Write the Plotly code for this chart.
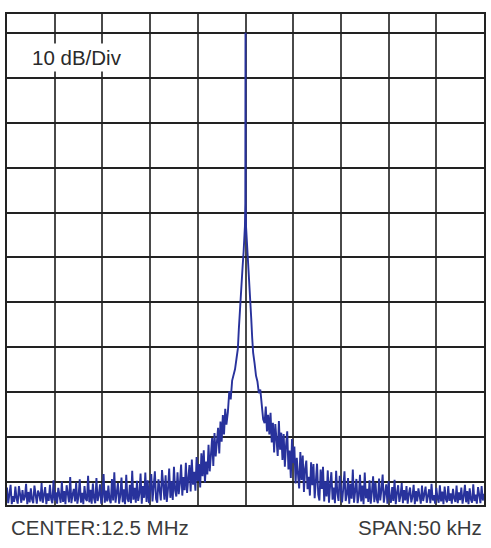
import numpy as np
import plotly.graph_objects as go

# ---- data (dB relative, frequency offset in kHz from 12.5 MHz centre) ----
left_floor_db = [
    -101.2, -104.7, -102.8, -100.6, -104.9, -103.1, -104.4, -101.0, -103.6, -104.8, -100.9, -102.7,
    -104.6, -101.8, -104.1, -103.3, -100.4, -104.9, -102.2, -104.5, -101.4, -103.9, -104.7, -100.8,
    -103.5, -104.8, -101.9, -102.6, -104.3, -100.2, -104.6, -103.0, -101.1, -104.9, -102.5, -104.2,
    -100.6, -103.8, -104.7, -99.6, -104.1, -102.3, -104.8, -101.3, -103.4, -104.6, -99.9, -104.4,
    -102.0, -104.9, -100.7, -103.2, -104.5, -98.9, -104.7, -102.8, -101.5, -104.3, -100.1, -104.8,
    -103.1, -99.4, -104.6, -102.4, -104.9, -100.9, -103.7, -104.2, -98.6, -104.5, -101.7, -104.8,
    -100.3, -103.6, -104.7, -99.1, -104.2, -102.9, -100.5, -104.8, -103.3, -98.2, -104.6, -101.9,
    -104.3, -100.8, -103.9, -104.7, -99.3, -104.1, -97.8, -104.6, -102.1, -100.2, -104.8, -103.0,
    -99.0, -104.5, -101.6, -104.9, -98.4, -103.7, -104.4, -100.6, -104.7, -97.5, -103.9, -101.3,
    -104.6, -99.7, -104.2, -102.6, -98.1, -104.8, -100.9, -103.5, -97.9, -104.4, -99.6, -104.7,
]
left_skirt_db = [
    -98.2, -104.3, -101.0, -97.6, -103.8, -104.6, -99.4, -102.1,
    -104.1, -97.3, -100.8, -103.9, -98.5, -104.4, -101.6, -97.0,
    -103.5, -99.8, -104.0, -96.6, -101.9, -103.2, -97.8, -102.7,
    -100.3, -96.1, -103.0, -98.9, -101.8, -95.7, -102.4, -99.2,
    -96.2, -102.1, -95.0, -100.6, -97.7, -101.9, -94.4, -99.8,
    -96.0, -101.2, -93.6, -98.7, -92.9, -100.1, -95.4, -98.3,
    -91.7, -97.6, -93.8, -90.2, -96.4, -89.1, -94.3, -91.5,
    -87.9, -93.6, -86.5, -91.0, -85.1, -89.4, -83.7, -87.2,
]
core_khz = [
    -1.85, -1.7, -1.55, -1.4, -1.25, -1.1, -0.95, -0.8, -0.7, -0.6, -0.5, -0.4,
    -0.3, -0.2, -0.12, -0.06, -0.02, 0.0, 0.02, 0.06, 0.12, 0.2, 0.3, 0.4, 0.5,
    0.6, 0.7, 0.8, 0.95, 1.1, 1.25, 1.4, 1.55, 1.7, 1.85,
]
core_db = [
    -84.5, -79.8, -81.6, -77.4, -76.2, -74.9, -72.6, -70.3, -66.0, -61.8, -58.2,
    -55.6, -51.9, -48.8, -45.5, -43.0, -38.0, 0.0, -38.5, -43.2, -45.8, -49.5,
    -52.6, -56.4, -59.5, -63.5, -67.8, -71.2, -73.5, -76.3, -77.6, -80.2, -79.4,
    -83.1, -86.0,
]
right_skirt_db = [
    -86.9, -83.2, -88.7, -85.0, -89.4, -84.6, -91.2, -86.8,
    -93.4, -87.1, -90.6, -94.2, -86.4, -92.8, -89.0, -95.1,
    -89.3, -96.6, -91.8, -88.7, -97.2, -93.0, -99.1, -90.4,
    -95.8, -92.1, -100.3, -94.6, -98.2, -101.4, -93.3, -99.5,
    -94.1, -102.2, -97.0, -95.2, -101.6, -98.8, -103.0, -95.6,
    -100.7, -96.0, -103.6, -99.1, -95.9, -102.8, -104.1, -97.2,
    -101.5, -96.6, -104.3, -99.8, -103.2, -97.4, -104.6, -100.6,
    -97.8, -103.9, -101.2, -104.7, -97.5, -102.4, -104.2, -98.6,
]
right_floor_db = [
    -104.5, -101.3, -97.6, -104.2, -102.8, -99.1, -104.8, -100.4, -103.7, -97.2, -104.6, -101.9,
    -99.3, -104.7, -103.1, -98.4, -104.3, -100.8, -104.9, -97.9, -103.6, -101.5, -104.4, -99.6,
    -104.8, -102.2, -98.7, -104.5, -100.1, -103.8, -104.7, -99.2, -104.1, -101.7, -98.3, -104.6,
    -102.9, -100.5, -104.8, -99.8, -103.4, -104.6, -101.1, -104.2, -99.5, -104.9, -102.4, -100.7,
    -104.4, -103.0, -100.2, -104.7, -101.8, -104.1, -100.9, -104.8, -102.6, -101.2, -104.5, -103.3,
    -100.6, -104.9, -102.0, -104.3, -101.4, -103.7, -104.8, -100.8, -104.2, -102.7, -101.0, -104.6,
    -103.2, -101.6, -104.7, -100.4, -104.1, -102.9, -104.8, -101.3, -103.5, -104.6, -100.7, -104.3,
    -102.1, -104.9, -101.0, -103.8, -104.5, -100.9, -104.2, -102.5, -104.8, -101.5, -103.6, -104.4,
    -100.8, -104.7, -102.3, -104.0, -101.2, -104.8, -103.1, -100.6, -104.5, -102.0, -104.9, -101.4,
    -103.9, -104.6, -100.5, -104.2, -102.8, -104.8, -101.1, -103.4, -104.7, -100.9, -104.1, -102.6,
]

# sweep frequency grid for each segment (uniform analyser bins)
left_floor_khz = np.linspace(-25, -10.125, len(left_floor_db))
left_skirt_khz = np.linspace(-9.875, -2.0, len(left_skirt_db))
right_skirt_khz = np.linspace(2.0, 9.875, len(right_skirt_db))
right_floor_khz = np.linspace(10.125, 25, len(right_floor_db))

freq = np.concatenate([left_floor_khz, left_skirt_khz, core_khz,
                       right_skirt_khz, right_floor_khz])
level = np.concatenate([left_floor_db, left_skirt_db, core_db,
                        right_skirt_db, right_floor_db])

FONT = "Liberation Sans, Arial, Helvetica, sans-serif"

fig = go.Figure()
fig.add_trace(go.Scatter(
    x=freq, y=level, mode="lines",
    line=dict(color="#28329c", width=1.9),
    hoverinfo="skip", showlegend=False,
))

fig.update_layout(
    width=491, height=548,
    margin=dict(l=7, r=5, t=14, b=43),
    paper_bgcolor="white", plot_bgcolor="white",
    font=dict(family=FONT, color="#333333"),
    xaxis=dict(
        range=[-25, 25], tick0=0, dtick=5,
        showgrid=True, gridcolor="#4a4a4a", gridwidth=2,
        zeroline=False, showticklabels=False, ticks="",
        showline=True, linecolor="#222222", linewidth=2, mirror=True,
        fixedrange=True,
    ),
    yaxis=dict(
        range=[-105.1, 4.2], tick0=0, dtick=10,
        showgrid=True, gridcolor="#222222", gridwidth=2,
        zeroline=False, showticklabels=False, ticks="",
        showline=True, linecolor="#222222", linewidth=2, mirror=True,
        fixedrange=True,
    ),
    annotations=[
        dict(text="10 dB/Div", xref="paper", yref="paper", x=0.147, y=0.912,
             xanchor="center", yanchor="middle", showarrow=False,
             bgcolor="white", borderpad=2,
             font=dict(family=FONT, size=20.5, color="#2a2a2a")),
        dict(text="CENTER:12.5 MHz", xref="paper", yref="paper", x=0.004, y=-0.045,
             xanchor="left", yanchor="middle", showarrow=False,
             font=dict(family=FONT, size=20.5, color="#3a3a3a")),
        dict(text="SPAN:50 kHz", xref="paper", yref="paper", x=1.0, y=-0.045,
             xanchor="right", yanchor="middle", showarrow=False,
             font=dict(family=FONT, size=20.5, color="#3a3a3a")),
    ],
)

fig.write_html("out.html", config={"displayModeBar": False},
               post_script="document.body.style.margin='0';")
